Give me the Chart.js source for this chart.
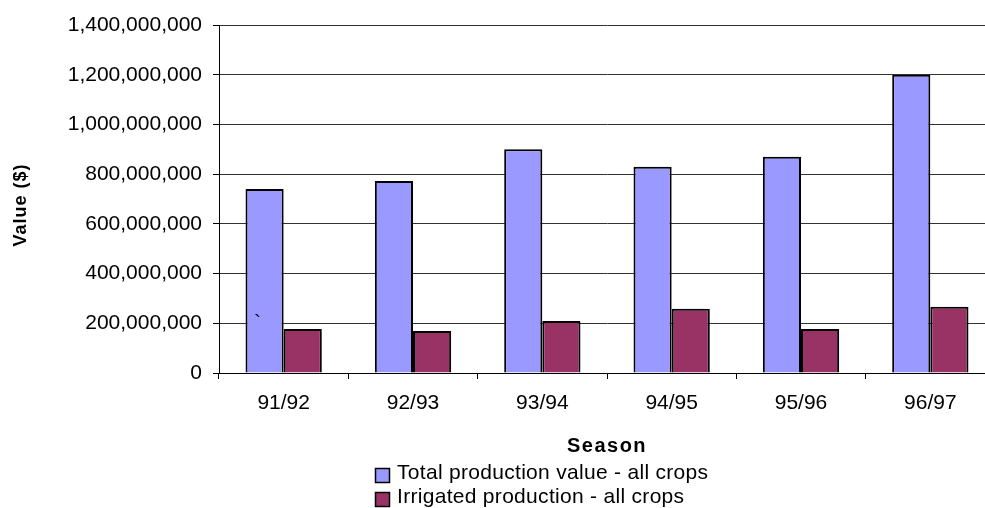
<!DOCTYPE html>
<html>
<head>
<meta charset="utf-8">
<title>Production value by season</title>
<script src="https://cdn.jsdelivr.net/npm/chart.js@4/dist/chart.umd.min.js"></script>
<style>
  html, body { margin: 0; padding: 0; background: #fff; overflow: hidden; }
  #wrap { position: relative; width: 1000px; height: 508px; }
</style>
</head>
<body>
<div id="wrap"><canvas id="chart"></canvas></div>
<script>
// Seasons on the category axis
const seasons = ['91/92', '92/93', '93/94', '94/95', '95/96', '96/97'];

// Production values in dollars
const totalProduction = [740000000, 772000000, 900000000, 830000000, 870000000, 1200000000];
const irrigatedProduction = [177000000, 169000000, 209000000, 258000000, 177000000, 267000000];

// Value axis range and tick step
const valueMin = 0;
const valueMax = 1400000000;
const valueStep = 200000000;

const seriesLabels = ['Total production value - all crops', 'Irrigated production - all crops'];
const seriesColors = ['#9999FF', '#993366'];

const FONT = '"Liberation Sans", Arial, Helvetica, sans-serif';
Chart.defaults.font.family = FONT;
Chart.defaults.color = '#000';

// Axis titles drawn with a little extra tracking; the value title sits a bit low
const titleSpacing = { x: '1.5px', y: '1px' };
const titleShift = { x: 0, y: 6 };
const spacedTitles = {
  id: 'spacedTitles',
  afterLayout(chart) {
    Object.values(chart.scales).forEach(scale => {
      if (scale._spacedTitle) return;
      const orig = scale.drawTitle;
      scale.drawTitle = function () {
        const ctx = this.ctx;
        ctx.save();
        if ('letterSpacing' in ctx) ctx.letterSpacing = titleSpacing[this.axis] || '0px';
        ctx.translate(0, titleShift[this.axis] || 0);
        orig.call(this);
        ctx.restore();
      };
      scale._spacedTitle = true;
    });
  }
};

// Two-line legend stacked under the axis title, plus the stray note mark
const stackedLegend = {
  id: 'stackedLegend',
  afterDraw(chart) {
    const ctx = chart.ctx;
    ctx.save();
    ctx.font = '21px ' + FONT;
    if ('letterSpacing' in ctx) ctx.letterSpacing = '0.3px';
    ctx.textBaseline = 'middle';
    ctx.textAlign = 'left';
    chart.data.datasets.forEach((ds, i) => {
      const cy = 475.5 + i * 24;
      ctx.fillStyle = ds.backgroundColor;
      ctx.fillRect(375.5, cy - 7, 14, 14);
      ctx.strokeStyle = '#000';
      ctx.lineWidth = 1.5;
      ctx.strokeRect(375.5, cy - 7, 14, 14);
      ctx.fillStyle = '#000';
      ctx.fillText(ds.label, 397, cy - 2);
    });
    if ('letterSpacing' in ctx) ctx.letterSpacing = '0px';
    ctx.textBaseline = 'alphabetic';
    ctx.fillText('`', 254, 329);
    ctx.restore();
  }
};

new Chart(document.getElementById('chart'), {
  type: 'bar',
  data: {
    labels: seasons,
    datasets: [
      {
        label: seriesLabels[0],
        data: totalProduction,
        backgroundColor: seriesColors[0],
        borderColor: '#000',
        borderWidth: 2
      },
      {
        label: seriesLabels[1],
        data: irrigatedProduction,
        backgroundColor: seriesColors[1],
        borderColor: '#000',
        borderWidth: 2
      }
    ]
  },
  options: {
    responsive: true,
    maintainAspectRatio: false,
    animation: false,
    devicePixelRatio: 1,
    layout: { padding: { top: 25, left: 0, right: 5, bottom: 45 } },
    datasets: { bar: { categoryPercentage: 0.59, barPercentage: 1.0 } },
    plugins: {
      legend: { display: false },
      tooltip: { enabled: false }
    },
    scales: {
      x: {
        type: 'category',
        offset: true,
        grid: {
          offset: true,
          drawOnChartArea: false,
          drawTicks: true,
          tickLength: 6,
          color: '#000',
          tickColor: '#000'
        },
        border: { display: true, color: '#000', width: 1 },
        ticks: { font: { size: 21 }, color: '#000', padding: 12, maxRotation: 0 },
        title: {
          display: true,
          text: 'Season',
          font: { size: 20, weight: 'bold' },
          color: '#000',
          padding: { top: 0, bottom: 4.5 }
        },
        afterFit(scale) { scale.height = 90; }
      },
      y: {
        min: valueMin,
        max: valueMax,
        grid: {
          color: '#333',
          lineWidth: 1,
          drawTicks: true,
          tickLength: 6,
          tickColor: '#000'
        },
        border: { display: true, color: '#000', width: 1 },
        ticks: {
          stepSize: valueStep,
          font: { size: 21 },
          color: '#000',
          padding: 11,
          callback: v => Number(v).toLocaleString('en-US')
        },
        title: {
          display: true,
          text: 'Value ($)',
          font: { size: 18, weight: 'bold' },
          color: '#000',
          padding: { top: 10, bottom: 0 }
        },
        afterFit(scale) { scale.width = 219; }
      }
    }
  },
  plugins: [spacedTitles, stackedLegend]
});
</script>
</body>
</html>
